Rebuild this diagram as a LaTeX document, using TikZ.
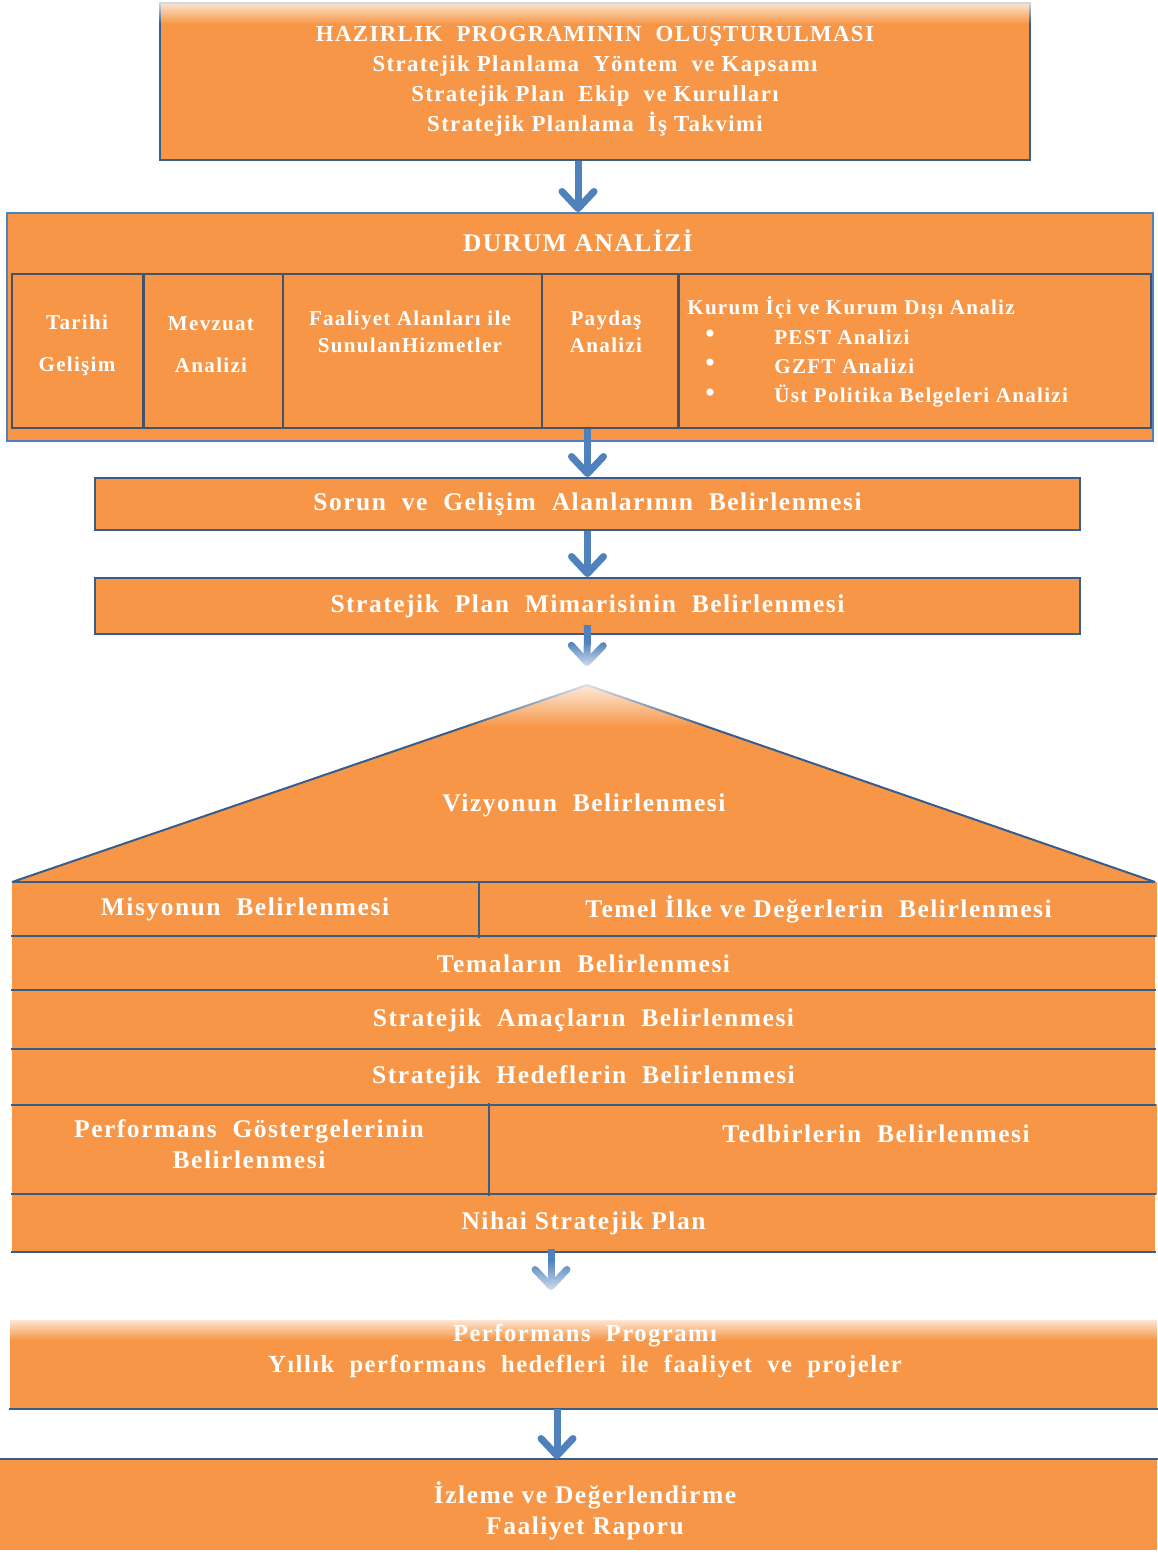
\documentclass[tikz,border=0pt]{standalone}
\usepackage{fontspec}
\setmainfont{Liberation Serif}[LetterSpace=6]
\usetikzlibrary{arrows.meta,positioning,fadings}
\definecolor{turuncu}{RGB}{247,150,70}
\definecolor{lacivert}{RGB}{56,93,138}
\definecolor{mavi}{RGB}{79,129,189}
\definecolor{cizgi}{RGB}{70,82,104}
\tikzset{
    %Define standard arrow tip
    >={Straight Barb[length=3.4mm,width=6.4mm,round]},
    %Define style for boxes
    kutu/.style={
           rectangle,
           fill=turuncu,
           draw=lacivert, line width=0.4mm,
           inner sep=0pt,
           text=white,
           font=\bfseries\fontsize{14.5}{17.6}\selectfont,
           align=center},
    serit/.style={
           kutu,
           draw=none},
    hucre/.style={
           rectangle,
           draw=cizgi, line width=0.25mm,
           inner sep=0pt},
    yazi/.style={
           text=white,
           font=\bfseries\fontsize{14.5}{17.6}\selectfont,
           align=center,
           inner sep=0pt},
    ustyazi/.style={
           yazi,
           font=\bfseries\fontsize{13}{17}\selectfont},
    kucukyazi/.style={
           yazi,
           font=\bfseries\fontsize{12}{15.5}\selectfont},
    % Define arrow style
    ok/.style={
           ->,
           draw=mavi,
           line width=1.4mm},
    % white fades
    silik/.style={
           white,
           path fading=north},
    ustsilik/.style={
           white,
           path fading=south}
}
\begin{document}
\begin{tikzpicture}[x=0.2mm, y=-0.2mm]
\useasboundingbox (0,0) rectangle (1157,1553);
         %hazirlik
          \node[kutu, minimum width=174mm, minimum height=31.4mm] (hazirlik) at (595,81.5) {};
          \fill[ustsilik] (150,-4) rectangle (1040,24);
          \node[ustyazi] (hazirliky) at (hazirlik) {HAZIRLIK\ \ PROGRAMININ\ \ OLUŞTURULMASI\\
            Stratejik Planlama\ \ Yöntem\ \ ve Kapsamı\\
            Stratejik Plan\ \ Ekip\ \ ve Kurulları\\
            Stratejik Planlama\ \ İş Takvimi};
         %durum analizi
          \node[kutu, draw=mavi, minimum width=229.2mm, minimum height=45.6mm] (durum) at (580,327) {};
          \node[yazi] (durumy) at (578,241) {DURUM ANALİZİ};
          \node[hucre, minimum width=26.2mm, minimum height=30.8mm] (tarihi) at (77.5,351) {};
          \node[hucre, minimum width=27.6mm, minimum height=30.8mm, right=0pt of tarihi] (mevzuat) {};
          \node[hucre, minimum width=51.6mm, minimum height=30.8mm, right=0pt of mevzuat] (faaliyet) {};
          \node[hucre, minimum width=27mm, minimum height=30.8mm, right=0pt of faaliyet] (paydas) {};
          \node[hucre, minimum width=94.4mm, minimum height=30.8mm, right=0pt of paydas] (kurum) {};
          \node[kucukyazi, font=\bfseries\fontsize{12}{24}\selectfont] (tarihiy) at (77,345) {Tarihi\\Gelişim};
          \node[kucukyazi, font=\bfseries\fontsize{12}{24}\selectfont] (mevzuaty) at (211,345) {Mevzuat\\Analizi};
          \node[kucukyazi] (faaliyety) at (410,332) {Faaliyet Alanları ile\\SunulanHizmetler};
          \node[kucukyazi] (paydasy) at (606,332) {Paydaş\\Analizi};
          \node[kucukyazi, anchor=west] (kurumy) at (687,308) {Kurum İçi ve Kurum Dışı Analiz};
          \foreach \y/\t in {337/PEST Analizi, 366/GZFT Analizi, 396/Üst Politika Belgeleri Analizi}{
            \node[kucukyazi, font=\fontsize{17}{17}\selectfont] (nokta\y) at (710,\y) {•};
            \node[kucukyazi, anchor=west] (madde\y) at (774,\y) {\t};
          }
         %sorun ve mimari
          \node[kutu, minimum width=197mm, minimum height=10.4mm] (sorun) at (587.5,504) {Sorun\ \ ve\ \ Gelişim\ \ Alanlarının\ \ Belirlenmesi};
          \node[kutu, minimum width=197mm, minimum height=11.2mm] (mimari) at (587.5,606) {Stratejik\ \ Plan\ \ Mimarisinin\ \ Belirlenmesi};
         %vizyon
          \coordinate (tepe) at (587,685);
          \coordinate (solkose) at (12,882);
          \coordinate (sagkose) at (1155,882);
          \fill[turuncu] (tepe) -- (sagkose) -- (solkose) -- cycle;
          \draw[lacivert, line width=0.4mm] (solkose) -- (tepe) -- (sagkose);
          \fill[ustsilik] ([xshift=-40mm,yshift=2mm]tepe) rectangle ([xshift=40mm,yshift=-8.4mm]tepe);
          \node[yazi] (vizyon) at (584,805) {Vizyonun\ \ Belirlenmesi};
         %rows
          \node[serit, minimum width=93.2mm, minimum height=11mm] (misyon) at (245,909.5) {Misyonun\ \ Belirlenmesi};
          \node[serit, minimum width=135.4mm, minimum height=11mm, right=0pt of misyon] (temel) {Temel\ İlke\ ve\ Değerlerin\ \ Belirlenmesi};
          \node[serit, minimum width=228.6mm, minimum height=10.8mm] (tema) at (583.5,964) {Temaların\ \ Belirlenmesi};
          \node[serit, minimum width=228.6mm, minimum height=11.8mm] (amac) at (583.5,1020.5) {Stratejik\ \ Amaçların\ \ Belirlenmesi};
          \node[serit, minimum width=228.6mm, minimum height=10.8mm] (hedef) at (583.5,1077) {Stratejik\ \ Hedeflerin\ \ Belirlenmesi};
          \node[serit, minimum width=95.2mm, minimum height=18.2mm] (gosterge) at (250,1149.5) {};
          \node[serit, minimum width=133.4mm, minimum height=18.2mm, right=0pt of gosterge] (tedbir) {};
          \node[yazi] (gostergey) at (249,1144.5) {Performans\ \ Göstergelerinin\\Belirlenmesi};
          \node[yazi] (tedbiry) at (876,1134) {Tedbirlerin\ \ Belirlenmesi};
          \node[serit, minimum width=228.6mm, minimum height=11.2mm] (nihai) at (583.5,1223) {Nihai Stratejik Plan};
          \draw[lacivert, line width=0.4mm] (solkose) -- (sagkose);
          \foreach \n in {tema, amac, hedef, nihai}{
            \draw[lacivert, line width=0.4mm] (\n.north west) -- (\n.north east);
          }
          \draw[lacivert, line width=0.4mm] (hedef.south west) -- (hedef.south east);
          \draw[lacivert, line width=0.4mm] (nihai.south west) -- (nihai.south east);
          \draw[lacivert, line width=0.4mm] (misyon.north east) -- (misyon.south east);
          \draw[lacivert, line width=0.4mm] (gosterge.north east) -- (gosterge.south east);
         %performans ve izleme
          \node[serit, minimum width=229.4mm, minimum height=17.6mm] (performans) at (583.5,1364) {};
          \fill[ustsilik] (0,1314) rectangle (1157,1340);
          \node[yazi, font=\bfseries\fontsize{14}{18}\selectfont] (performansy) at (585,1351) {Performans\ \ Programı\\Yıllık\ \ performans\ \ hedefleri\ \ ile\ \ faaliyet\ \ ve\ \ projeler};
          \draw[lacivert, line width=0.4mm] (performans.south west) -- (performans.south east);
          \node[serit, minimum width=231.4mm, minimum height=18mm] (izleme) at (578.5,1505) {};
          \draw[lacivert, line width=0.4mm] (izleme.north west) -- (izleme.north east);
          \node[yazi, font=\bfseries\fontsize{14.5}{17.6}\selectfont] (izlemey) at (585,1510.5) {İzleme\ ve\ Değerlendirme\\Faaliyet\ Raporu};
         %arrows
          \draw[ok] (hazirlik.south -| durumy) -- (durum.north -| durumy);
          \draw[ok] (sorun.north |- kurum.south) -- (sorun.north);
          \draw[ok] (sorun.south) -- (mimari.north);
          \draw[ok] ([yshift=2mm]mimari.south) -- ([yshift=3.8mm]tepe);
          \fill[silik] ([xshift=-8mm,yshift=-1.4mm]mimari.south) rectangle ([xshift=8mm,yshift=2mm]tepe);
          \draw[ok] ([xshift=-6.5mm,yshift=0.6mm]nihai.south) -- ([xshift=-6.5mm,yshift=-7.6mm]nihai.south);
          \fill[silik] ([xshift=-14.5mm,yshift=-1.6mm]nihai.south) rectangle ([xshift=1.5mm,yshift=-9.8mm]nihai.south);
          \draw[ok] ([xshift=-5.3mm]performans.south) -- ([xshift=-5.3mm]performans.south |- izleme.north);
\end{tikzpicture}
\end{document}
